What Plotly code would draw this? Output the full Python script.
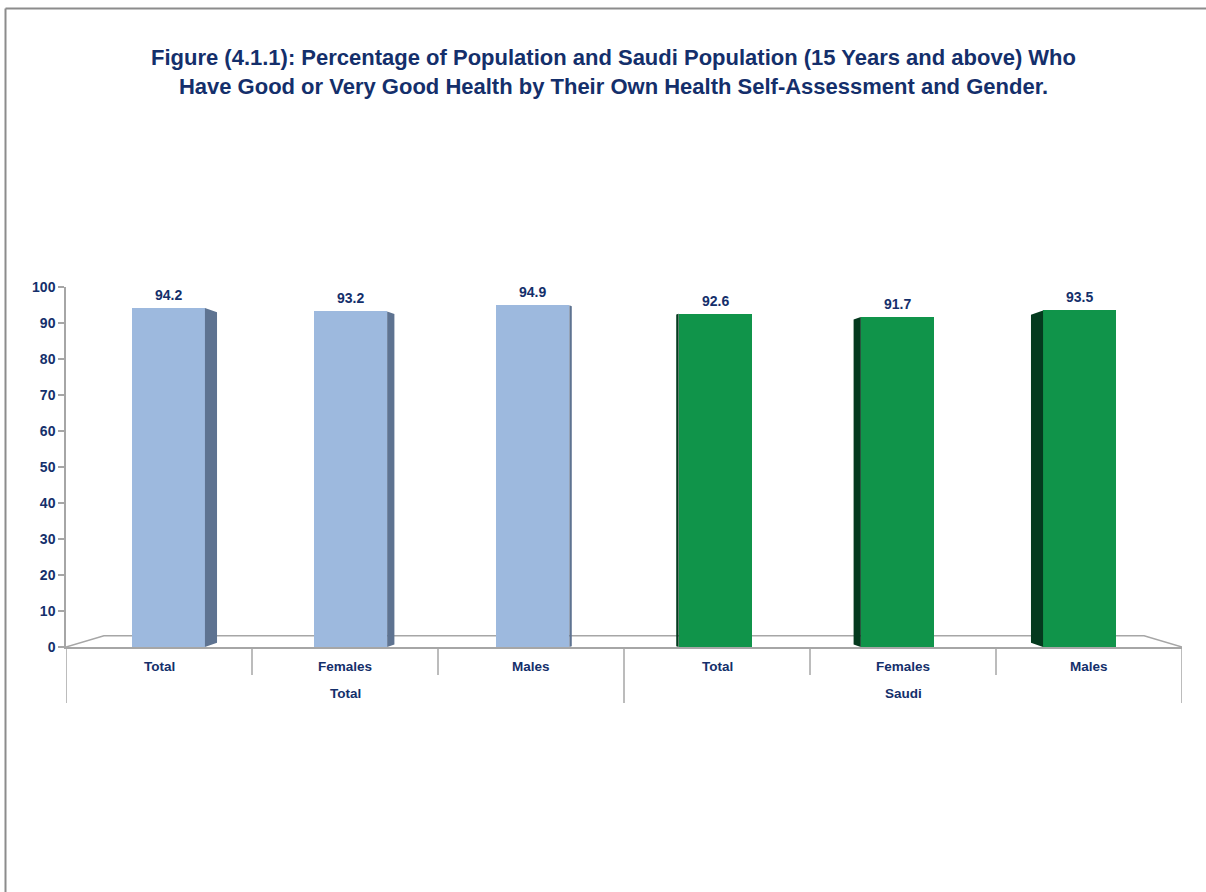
import plotly.graph_objects as go

# ---- data -------------------------------------------------------------
categories = ["Total", "Females", "Males", "Total", "Females", "Males"]
groups = ["Total", "Saudi"]
group_sizes = [3, 3]
values = [94.2, 93.2, 94.9, 92.6, 91.7, 93.5]
y_ticks = list(range(0, 101, 10))

title_text = ("<b>Figure (4.1.1): Percentage of Population and Saudi Population (15 Years and above) Who<br>"
              "Have Good or Very Good Health by Their Own Health Self-Assessment and Gender.</b>")

# ---- styling ----------------------------------------------------------
W, H = 1206, 892
M_L, M_R, M_T, M_B = 66, 24, 287, 245
NAVY = "#142F6B"
GRID = "#A6A6A6"
FRONT = ["#9DB9DE"] * 3 + ["#10944A"] * 3
SIDE = ["#5E7391"] * 3 + ["#043A1E"] * 3
FONT = "Liberation Sans, Arial, sans-serif"

BAR_W = 0.392        # width of the front face (category units)
SHIFT = 0.051        # perspective pull of outer bars toward the centre
DEPTH = 0.065        # visible side depth of the outermost bars
TAPER = 1.2          # vertical taper of the receding side edge (y units)

n = len(values)
centre = (n - 1) / 2

# pixel -> paper helpers for items placed outside the plot area
pw, ph = W - M_L - M_R, H - M_T - M_B
def px_x(p): return (p - M_L) / pw
def px_y(p): return (H - M_B - p) / ph

front_x, side_polys = [], {c: ([], []) for c in dict.fromkeys(SIDE)}
for i, v in enumerate(values):
    t = (i - centre) / centre
    xc = i - SHIFT * t
    front_x.append(xc)
    d = DEPTH * abs(t)
    tp = TAPER * abs(t)
    if t < 0:   # left of centre -> side face on the right
        xi, xo = xc + BAR_W / 2, xc + BAR_W / 2 + d
    else:       # right of centre -> side face on the left
        xi, xo = xc - BAR_W / 2, xc - BAR_W / 2 - d
    xs, ys = side_polys[SIDE[i]]
    xs += [xi, xo, xo, xi, xi, None]
    ys += [v, v - tp, tp, 0, v, None]

fig = go.Figure()

for color, (xs, ys) in side_polys.items():
    fig.add_trace(go.Scatter(x=xs, y=ys, mode="lines", fill="toself",
                             fillcolor=color, line=dict(width=0, color=color),
                             hoverinfo="skip", showlegend=False))

fig.add_trace(go.Bar(x=front_x, y=values, width=BAR_W,
                     marker=dict(color=FRONT, line=dict(width=0)),
                     showlegend=False, hovertemplate="%{y}<extra></extra>"))

# value labels
for xc, v in zip(front_x, values):
    fig.add_annotation(x=xc, y=v, text=f"<b>{v:.1f}</b>", showarrow=False,
                       yanchor="bottom", yshift=3,
                       font=dict(family=FONT, size=14, color=NAVY))

# category labels and group labels
for i, c in enumerate(categories):
    fig.add_annotation(x=i, y=0, yref="paper", text=f"<b>{c}</b>", showarrow=False,
                       yanchor="middle", yshift=-19,
                       font=dict(family=FONT, size=13.5, color=NAVY))
start = 0
bounds = [-0.5]
for g, size in zip(groups, group_sizes):
    mid = start + (size - 1) / 2
    fig.add_annotation(x=mid, y=0, yref="paper", text=f"<b>{g}</b>", showarrow=False,
                       yanchor="middle", yshift=-46,
                       font=dict(family=FONT, size=13.5, color=NAVY))
    start += size
    bounds.append(start - 0.5)

# dividers below the category axis
for k in range(n + 1):
    xb = k - 0.5
    long = any(abs(xb - b) < 1e-9 for b in bounds)
    fig.add_shape(type="line", xref="x", yref="paper", ysizemode="pixel", yanchor=0,
                  x0=xb, x1=xb, y0=0, y1=-56 if long else -28,
                  line=dict(color=GRID, width=1.5))

# floor of the 3-D plot area
fig.add_shape(type="path", xref="x", yref="y", layer="below",
              path="M -0.5,0 L -0.296,3.1 L 5.296,3.1 L 5.5,0",
              line=dict(color=GRID, width=1.5))

# outer frame
fx0, fy0 = px_x(5.5), px_y(8.5)
fig.add_shape(type="line", xref="paper", yref="paper", x0=fx0, x1=px_x(W + 5), y0=fy0, y1=fy0,
              line=dict(color="#8C8C8C", width=2))
fig.add_shape(type="line", xref="paper", yref="paper", x0=fx0, x1=fx0, y0=fy0, y1=px_y(H + 5),
              line=dict(color="#8C8C8C", width=2))

# title
fig.add_annotation(text=title_text, xref="paper", yref="paper",
                   x=px_x(613), y=px_y(43), xanchor="center", yanchor="top",
                   showarrow=False, align="center",
                   font=dict(family=FONT, size=22, color=NAVY))

fig.update_layout(
    width=W, height=H,
    margin=dict(l=M_L, r=M_R, t=M_T, b=M_B),
    paper_bgcolor="white", plot_bgcolor="white",
    xaxis=dict(range=[-0.5, n - 0.5], showticklabels=False, showgrid=False,
               zeroline=False, showline=True, linecolor=GRID, linewidth=1.5,
               fixedrange=True),
    yaxis=dict(range=[0, 100], tickvals=y_ticks, ticktext=[f"<b>{t}</b>" for t in y_ticks],
               showgrid=False, zeroline=False, showline=True, linecolor=GRID, linewidth=1.5,
               ticks="outside", ticklen=6, tickcolor=GRID, tickwidth=1.5,
               tickfont=dict(family=FONT, size=14, color=NAVY), fixedrange=True),
    bargap=0,
)

fig.write_html("out.html")
